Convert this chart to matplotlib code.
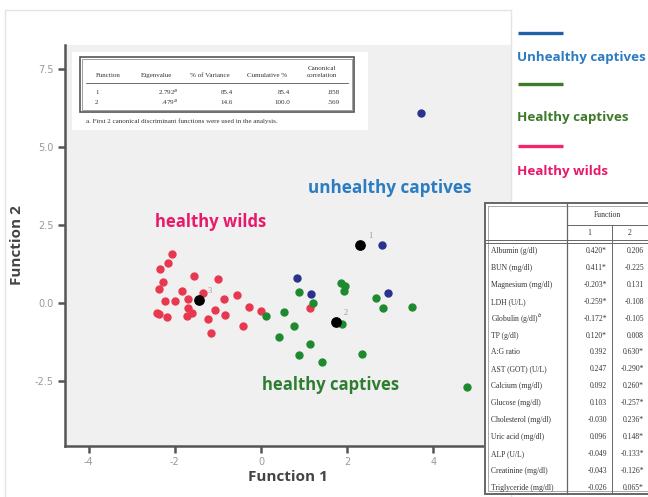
import matplotlib.pyplot as plt
from matplotlib.patches import Rectangle
import numpy as np

plt.rcParams["axes.unicode_minus"] = False

# discriminant scores per group (function 1, function 2)
wild_f1 = [-2.07, -2.15, -2.34, -2.28, -2.38, -1.55, -0.99, -1.84, -1.34, -0.55,
           -2.24, -2.00, -1.69, -0.87, -1.69, -1.07, -0.29, 0.00, -2.42, -2.36,
           -2.19, -1.72, -1.61, -0.84, -1.22, -0.41, -1.16, 1.14]
wild_f2 = [1.56, 1.27, 1.09, 0.66, 0.45, 0.87, 0.77, 0.39, 0.31, 0.27,
           0.07, 0.07, 0.12, 0.12, -0.17, -0.22, -0.14, -0.26, -0.33, -0.36,
           -0.44, -0.41, -0.31, -0.38, -0.51, -0.73, -0.95, -0.17]

captive_f1 = [0.88, 1.21, 1.86, 1.95, 1.93, 2.66, 2.84, 3.51, 0.12, 0.54,
              0.77, 0.42, 1.14, 0.88, 1.41, 1.87, 2.35, 4.77]
captive_f2 = [0.36, -0.01, 0.63, 0.54, 0.38, 0.15, -0.17, -0.11, -0.42, -0.30,
              -0.74, -1.08, -1.32, -1.67, -1.88, -0.68, -1.64, -2.68]

unhealthy_f1 = [0.83, 1.15, 2.81, 2.94, 3.71]
unhealthy_f2 = [0.79, 0.29, 1.86, 0.33, 6.10]

legend_labels = ["Unhealthy captives", "Healthy captives", "Healthy wilds"]

eigen_header = ["Function", "Eigenvalue", "% of Variance", "Cumulative %", "Canonical\ncorrelation"]
eigen_rows = [["1", "2.792$^a$", "85.4", "85.4", ".858"],
              ["2", ".479$^a$", "14.6", "100.0", ".569"]]
eigen_note = "a. First 2 canonical discriminant functions were used in the analysis."

struct_vars = ["Albumin (g/dl)", "BUN (mg/dl)", "Magnesium (mg/dl)", "LDH (U/L)",
               "Globulin (g/dl)$^b$", "TP (g/dl)", "A:G ratio", "AST (GOT) (U/L)",
               "Calcium (mg/dl)", "Glucose (mg/dl)", "Cholesterol (mg/dl)",
               "Uric acid (mg/dl)", "ALP (U/L)", "Creatinine (mg/dl)", "Triglyceride (mg/dl)"]
struct_f1 = ["0.420*", "0.411*", "-0.203*", "-0.259*", "-0.172*", "0.120*", "0.392",
             "0.247", "0.092", "0.103", "-0.030", "0.096", "-0.049", "-0.043", "-0.026"]
struct_f2 = ["0.206", "-0.225", "0.131", "-0.108", "-0.105", "0.008", "0.630*",
             "-0.290*", "0.260*", "-0.257*", "0.236*", "0.148*", "-0.133*", "-0.126*", "0.065*"]

c_wild, c_captive, c_unhealthy = "#e8384f", "#1d8a30", "#28328f"

fig = plt.figure(figsize=(6.48, 4.97), dpi=100)
W, H = 648, 497

# main scatter axes
ax = fig.add_axes([65 / W, 1 - 446 / H, (511 - 65) / W, (446 - 45) / H])
ax.set_facecolor("#f0f0f0")
ax.scatter(wild_f1, wild_f2, s=25, color=c_wild, zorder=3)
ax.scatter(captive_f1, captive_f2, s=25, color=c_captive, zorder=3)
ax.scatter(unhealthy_f1, unhealthy_f2, s=25, color=c_unhealthy, zorder=3)

# group centroids
for num, (gx, gy) in zip(["1", "2", "3"],
                         [(unhealthy_f1, unhealthy_f2), (captive_f1, captive_f2), (wild_f1, wild_f2)]):
    cx, cy = np.mean(gx), np.mean(gy)
    ax.scatter([cx], [cy], s=45, color="black", zorder=4)
    ax.annotate(num, (cx, cy), xytext=(6, 5), textcoords="offset points",
                fontsize=6, color="#999999", family="Liberation Serif")

ax.set_xlim(-4.55, 5.80)
ax.set_ylim(-4.58, 8.27)
ax.set_xticks([-4, -2, 0, 2, 4])
ax.set_yticks([-2.5, 0, 2.5, 5.0, 7.5])
ax.set_yticklabels(["-2.5", "0.0", "2.5", "5.0", "7.5"])
for s in ["top", "right"]:
    ax.spines[s].set_visible(False)
for s in ["left", "bottom"]:
    ax.spines[s].set_color("#555555")
    ax.spines[s].set_linewidth(1.8)
ax.tick_params(direction="out", length=5, width=1.8, color="#555555",
               labelsize=7, labelcolor="#999999", pad=3)
ax.set_xlabel("Function 1", fontsize=11, fontweight="bold", color="#444444",
              family="Open Sans", labelpad=2)
ax.set_ylabel("Function 2", fontsize=11, fontweight="bold", color="#444444",
              family="Open Sans", labelpad=8)

ax.text(2.98, 3.7, "unhealthy captives", color="#2b7cc2", fontsize=12.3,
        fontweight="bold", family="Open Sans", ha="center", va="center")
ax.text(-1.17, 2.59, "healthy wilds", color="#e8196b", fontsize=12,
        fontweight="bold", family="Open Sans", ha="center", va="center")
ax.text(1.61, -2.63, "healthy captives", color="#2e7d32", fontsize=12,
        fontweight="bold", family="Open Sans", ha="center", va="center")

# overlay in pixel coordinates for frame, legend and tables
ov = fig.add_axes([0, 0, 1, 1], zorder=5)
ov.set_xlim(0, W)
ov.set_ylim(H, 0)
ov.axis("off")
ov.patch.set_alpha(0)

ov.add_patch(Rectangle((5, 10), 506, 490, fill=False, ec="#e4e4e4", lw=1))

# legend at right
leg_colors = ["#2060a8", "#3d7a2a", "#f0256b"]
leg_text_colors = ["#2b7cc2", "#3d7a2a", "#e8196b"]
for i, lab in enumerate(legend_labels):
    y_line = [33, 84, 146][i]
    y_txt = [57, 117, 172][i]
    ov.plot([518, 563], [y_line, y_line], color=leg_colors[i], lw=2.4, solid_capstyle="butt")
    ov.text(517, y_txt, lab, color=leg_text_colors[i], fontsize=9.6, fontweight="bold",
            family="Open Sans", va="center", ha="left")

# eigenvalue table (upper left)
tf = dict(family="Liberation Serif", fontsize=5, color="#333333")
ov.add_patch(Rectangle((72, 52), 296, 78, fc="white", ec="none"))
ov.add_patch(Rectangle((80, 57), 274, 55, fill=False, ec="#555555", lw=1.2))
ov.add_patch(Rectangle((82, 59), 270, 51, fill=False, ec="#777777", lw=0.5))
hx = [108, 156, 210, 267, 322]
for x, h in zip(hx, eigen_header):
    ov.text(x, 78, h, ha="center", va="bottom", linespacing=1.4, **tf)
ov.plot([86, 348], [83, 83], color="#555555", lw=0.6)
rx = [95, 178, 233, 290, 340]
for j, row in enumerate(eigen_rows):
    y = 92 + j * 10
    ov.text(rx[0], y, row[0], ha="left", va="center", **tf)
    for x, v in zip(rx[1:], row[1:]):
        ov.text(x, y, v, ha="right", va="center", **tf)
ov.text(86, 121, eigen_note, ha="left", va="center", **tf)

# structure matrix table (lower right)
sf = dict(family="Liberation Serif", fontsize=5.5, color="#333333")
ov.add_patch(Rectangle((485, 203), 200, 291, fc="white", ec="#666666", lw=1.4, clip_on=False))
ov.add_patch(Rectangle((488, 206), 200, 285, fill=False, ec="#888888", lw=0.5))
ov.plot([567, 567], [203, 494], color="#666666", lw=0.9)
ov.plot([612, 612], [225, 494], color="#666666", lw=0.7)
ov.plot([567, 648], [225, 225], color="#666666", lw=0.7)
ov.plot([485, 648], [240, 240], color="#666666", lw=0.7)
ov.plot([485, 648], [243, 243], color="#666666", lw=0.7)
ov.text(607, 215, "Function", ha="center", va="center", **sf)
ov.text(589, 233, "1", ha="center", va="center", **sf)
ov.text(630, 233, "2", ha="center", va="center", **sf)
for i, (name, v1, v2) in enumerate(zip(struct_vars, struct_f1, struct_f2)):
    y = 251 + i * 16.9
    ov.text(491, y, name, ha="left", va="center", **sf)
    ov.text(607, y, v1, ha="right", va="center", **sf)
    ov.text(644, y, v2, ha="right", va="center", **sf)

fig.savefig("out.png", dpi=100)
